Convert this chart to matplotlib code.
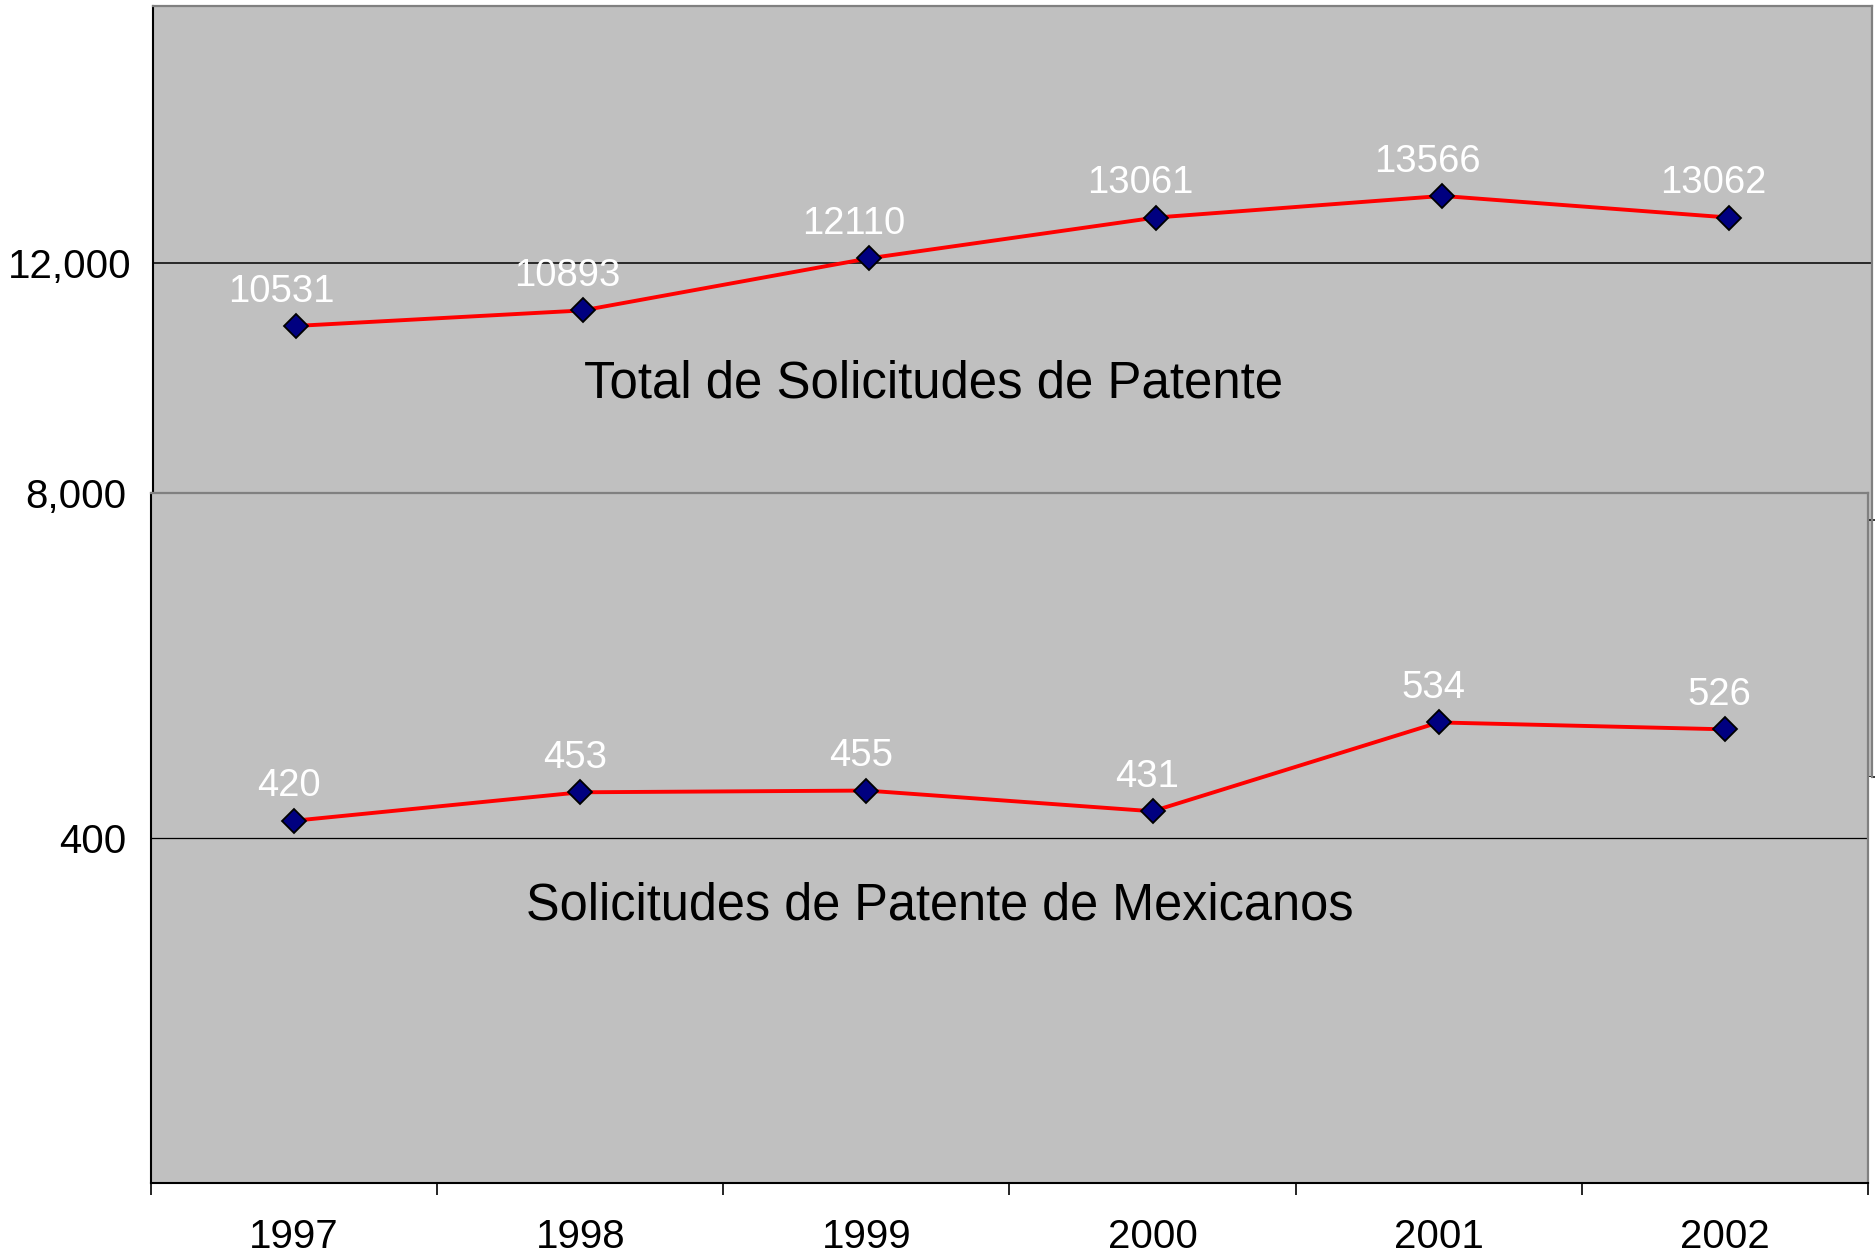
import matplotlib
matplotlib.use('Agg')
import matplotlib.pyplot as plt
import numpy as np

# ---- data ----
years = ['1997', '1998', '1999', '2000', '2001', '2002']
total = [10531, 10893, 12110, 13061, 13566, 13062]
mexicanos = [420, 453, 455, 431, 534, 526]
top_ticks = [0, 6000, 12000]
top_ticklabels = ['', '', '12,000']
bottom_ticks = [400, 800]
bottom_ticklabels = ['400', '8,000']
title_top = 'Total de Solicitudes de Patente'
title_bottom = 'Solicitudes de Patente de Mexicanos'

plt.rcParams['font.family'] = ['Liberation Sans', 'DejaVu Sans']

W, H = 1875, 1254
fig = plt.figure(figsize=(W / 100, H / 100), dpi=100)
fig.patch.set_facecolor('white')

GRAY = '#C0C0C0'
BORDER = '#808080'


def box(l, t, r, b):
    return [l / W, 1 - b / H, (r - l) / W, (b - t) / H]


def style_series(ax, values, dx):
    x = np.arange(len(values))
    ax.plot(x, values, color='#FF0000', lw=2.8, zorder=3,
            marker='D', markersize=12.5, markerfacecolor='#000080',
            markeredgecolor='black', markeredgewidth=1.3)
    for i, v in enumerate(values):
        ax.annotate(str(v), (i, v), xytext=(dx, 17.5), textcoords='offset points',
                    ha='center', va='baseline', color='white', fontsize=27.5, zorder=4)


# ---- top chart (total) ----
ax1 = fig.add_axes(box(153, 6, 1872, 777), zorder=1)
ax1.set_facecolor(GRAY)
ax1.set_xlim(-0.5, 5.5)
ax1.set_ylim(0, 18000)
style_series(ax1, total, -11)
ax1.set_xticks([])
ax1.set_yticks(top_ticks)
ax1.set_yticklabels(top_ticklabels)
ax1.tick_params(axis='y', left=False, right=True, length=3, width=1.1,
                color='black', labelsize=29, pad=12.5)
ax1.yaxis.grid(True, color='black', lw=1.1)
ax1.set_axisbelow(True)
for k, t in enumerate(ax1.yaxis.get_major_ticks()):
    if k == 2:
        t.tick2line.set_visible(False)
ax1.spines['bottom'].set_visible(False)
ax1.spines['top'].set_color(BORDER)
ax1.spines['right'].set_color(BORDER)
ax1.spines['top'].set_linewidth(1.6)
ax1.spines['right'].set_linewidth(1.6)
ax1.spines['left'].set_color('black')
ax1.spines['left'].set_linewidth(1.5)
ax1.text(0.4543, 0.4916, title_top, transform=ax1.transAxes, ha='center',
         va='baseline', fontsize=36.7, color='black')

# ---- bottom chart (mexicanos) ----
ax2 = fig.add_axes(box(151, 493, 1868, 1183), zorder=2)
ax2.set_facecolor(GRAY)
ax2.set_xlim(-0.5, 5.5)
ax2.set_ylim(0, 800)
style_series(ax2, mexicanos, -4)
ax2.set_yticks(bottom_ticks)
ax2.set_yticklabels(bottom_ticklabels)
ax2.tick_params(axis='y', length=0, labelsize=29, pad=18)
ax2.yaxis.grid(True, color='black', lw=0.9)
ax2.set_axisbelow(True)
for k, t in enumerate(ax2.yaxis.get_major_ticks()):
    if k == 1:
        t.gridline.set_visible(False)
ax2.set_xticks(np.arange(len(years)))
ax2.set_xticklabels(years)
ax2.set_xticks(np.arange(-0.5, len(years), 1.0), minor=True)
ax2.tick_params(axis='x', which='major', length=0, labelsize=29, pad=25.5)
ax2.tick_params(axis='x', which='minor', length=8.6, width=1.2, color='black',
                direction='out')
ax2.spines['top'].set_color(BORDER)
ax2.spines['right'].set_color(BORDER)
ax2.spines['top'].set_linewidth(1.6)
ax2.spines['right'].set_linewidth(1.6)
ax2.spines['left'].set_color('black')
ax2.spines['left'].set_linewidth(1.5)
ax2.spines['bottom'].set_color('black')
ax2.spines['bottom'].set_linewidth(1.5)
ax2.text((939.5 - 151) / 1717, (1183 - 920) / 690, title_bottom,
         transform=ax2.transAxes, ha='center', va='baseline', fontsize=36.4,
         color='black')

fig.savefig('out.png', dpi=100, facecolor='white')
